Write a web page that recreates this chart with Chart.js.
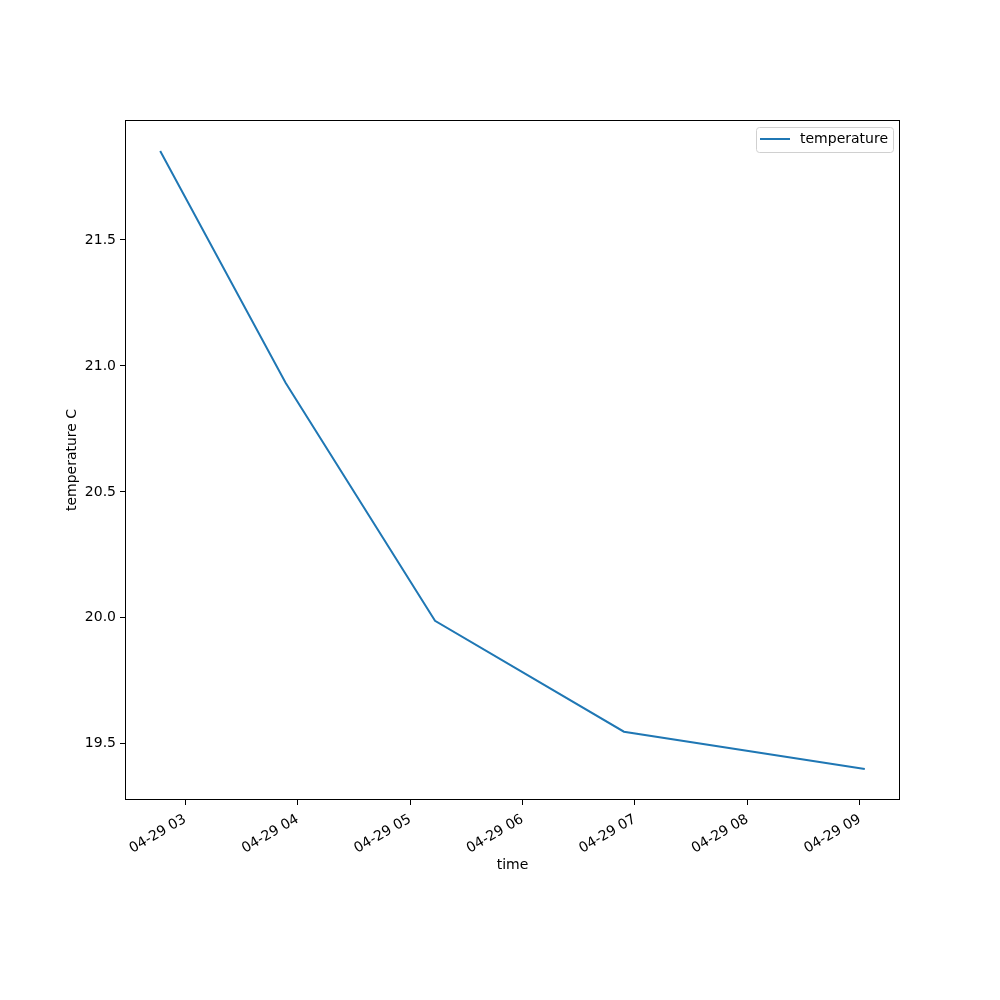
<!DOCTYPE html>
<html>
<head>
<meta charset="utf-8">
<script src="https://cdn.jsdelivr.net/npm/chart.js@4"></script>
<style>
  html, body { margin: 0; padding: 0; background: #fff; }
  #wrap { width: 1000px; height: 1000px; }
</style>
</head>
<body>
<div id="wrap"><canvas id="chart" width="1000" height="1000"></canvas></div>
<script>
// hours since midnight on 04-29
const timeHours = [2.778, 3.893, 5.222, 6.902, 9.044]
const temperatures = [21.853, 20.933, 19.988, 19.548, 19.400]
const xTickHours = [3, 4, 5, 6, 7, 8, 9]
const yTicks = [19.5, 20.0, 20.5, 21.0, 21.5]
const seriesName = 'temperature'

const font = { family: 'DejaVu Sans', size: 14 }

// frame round the plot + legend in the upper right corner
const framePlugin = {
  id: 'frame',
  afterDraw(chart) {
    const { ctx, chartArea: a } = chart
    ctx.save()
    ctx.strokeStyle = '#000'
    ctx.lineWidth = 1
    ctx.strokeRect(a.left + 0.5, a.top + 0.5, a.right - a.left - 1, a.bottom - a.top - 1)

    // legend
    const bx = a.right - 144, by = a.top + 7, bw = 137, bh = 25
    ctx.fillStyle = 'rgba(255,255,255,0.8)'
    ctx.strokeStyle = '#d0d0d0'
    ctx.beginPath()
    ctx.roundRect(bx + 0.5, by + 0.5, bw, bh, 3)
    ctx.fill()
    ctx.stroke()
    ctx.strokeStyle = '#1f77b4'
    ctx.lineWidth = 2
    ctx.beginPath()
    ctx.moveTo(bx + 4, by + 12)
    ctx.lineTo(bx + 34, by + 12)
    ctx.stroke()
    ctx.fillStyle = '#000'
    ctx.font = '14px "DejaVu Sans"'
    ctx.textBaseline = 'middle'
    ctx.fillText(seriesName, bx + 44, by + 12)
    ctx.restore()
  }
}

new Chart(document.getElementById('chart'), {
  type: 'line',
  data: {
    datasets: [{
      label: seriesName,
      data: timeHours.map((t, i) => ({ x: t, y: temperatures[i] })),
      borderColor: '#1f77b4',
      borderWidth: 2,
      pointRadius: 0,
      tension: 0,
      fill: false
    }]
  },
  options: {
    responsive: false,
    animation: false,
    layout: { padding: { left: 64, right: 100, top: 120, bottom: 126 } },
    plugins: { legend: { display: false }, tooltip: { enabled: false } },
    scales: {
      x: {
        type: 'linear',
        min: 2.465,
        max: 9.357,
        afterBuildTicks: s => { s.ticks = xTickHours.map(v => ({ value: v })) },
        afterFit: s => { s.height = 74 },
        grid: { drawOnChartArea: false, drawTicks: true, tickLength: 5, color: '#000' },
        border: { display: false },
        ticks: {
          color: '#000',
          font,
          padding: 6,
          minRotation: 30,
          maxRotation: 30,
          autoSkip: false,
          callback: v => '04-29 ' + String(v).padStart(2, '0')
        },
        title: { display: true, text: 'time', color: '#000', font, padding: 0 }
      },
      y: {
        min: 19.277,
        max: 21.976,
        afterBuildTicks: s => { s.ticks = yTicks.map(v => ({ value: v })) },
        afterFit: s => { s.width = 61 },
        grid: { drawOnChartArea: false, drawTicks: true, tickLength: 5, color: '#000' },
        border: { display: false },
        ticks: { color: '#000', font, padding: 4, callback: v => v.toFixed(1) },
        title: { display: true, text: 'temperature C', color: '#000', font, padding: 0 }
      }
    }
  },
  plugins: [framePlugin]
})
</script>
</body>
</html>
